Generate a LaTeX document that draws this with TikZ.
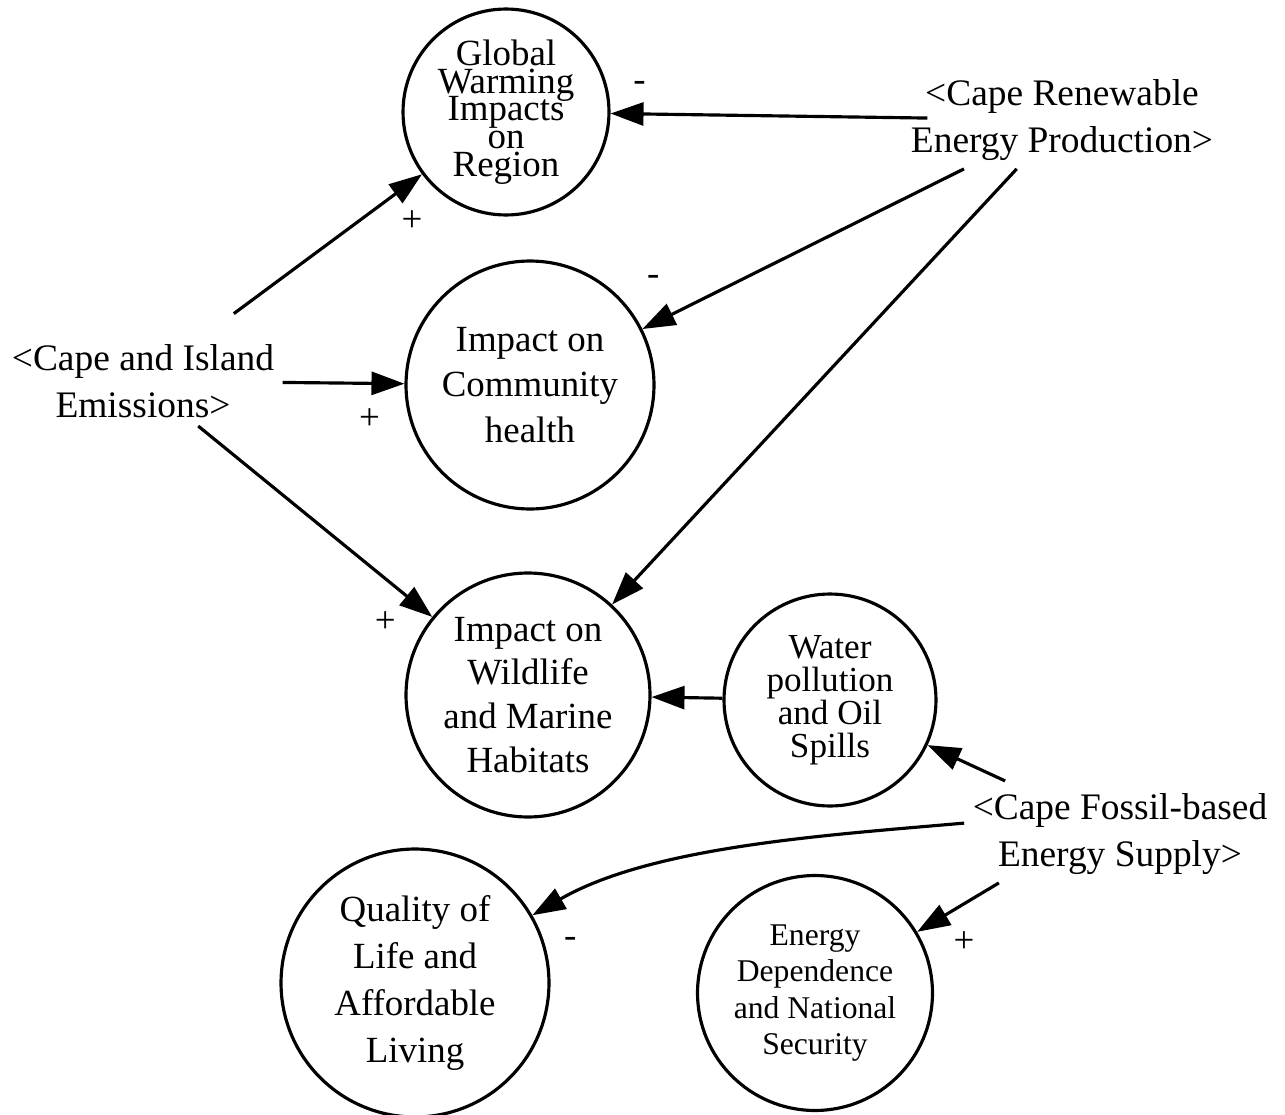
\documentclass[tikz,border=0pt]{standalone}
\usepackage{fontspec}
\setmainfont{Liberation Serif}
\usetikzlibrary{arrows.meta}

\begin{document}
\begin{tikzpicture}[x=0.02cm,y=-0.02cm,>={Triangle[length=0.66cm,width=0.46cm]},
                    line width=1.8pt,
                    var node/.style={circle,draw,inner sep=0pt,align=center,
                      font={\fontsize{21}{26}\selectfont\lineskiplimit=-50pt}},
                    shadow var/.style={align=center,inner sep=4pt,
                      font=\fontsize{21.3}{26.5}\selectfont},
                    sign/.style={font=\fontsize{21}{21}\selectfont,inner sep=0pt}]
  \useasboundingbox (0,0) rectangle (1285,1115);
  % variables in circles
  \node[var node,minimum size=4.12cm,
        font={\fontsize{21}{15.8}\selectfont\lineskiplimit=-50pt}] (glob) at (506,112)
        {Global\\Warming\\Impacts\\on\\Region};
  \node[var node,minimum size=4.96cm] (comm) at (530,385) {Impact on\\Community\\health};
  \node[var node,minimum size=4.88cm,
        font={\fontsize{21}{25}\selectfont\lineskiplimit=-50pt}] (wild) at (528,695)
        {Impact on\\Wildlife\\and Marine\\Habitats};
  \node[var node,minimum size=4.24cm,
        font={\fontsize{20}{18.8}\selectfont\lineskiplimit=-50pt}] (water) at (830,700)
        {Water\\pollution\\and Oil\\Spills};
  \node[var node,minimum size=5.36cm,
        font={\fontsize{21}{26.7}\selectfont\lineskiplimit=-50pt}] (qual) at (415,983)
        {Quality of\\Life and\\Affordable\\Living};
  \node[var node,minimum size=4.70cm,
        font={\fontsize{18}{20.8}\selectfont\lineskiplimit=-50pt}] (dep) at (815,993)
        {Energy\\Dependence\\and National\\Security};
  % shadow variables
  \node[shadow var] (emis) at (143,381) {<Cape and Island\\Emissions>};
  \node[shadow var] (renew) at (1062,120) {<Cape Renewable\\Energy Production>};
  \node[shadow var] (fossil) at (1120,834) {<Cape Fossil-based\\Energy Supply>};

  \path[->]
    (renew) edge[shorten <=-.5cm] node[sign,pos=1,xshift=.58cm,yshift=.54cm] {-} (glob)
    (renew) edge node[sign,pos=1,xshift=.22cm,yshift=.98cm] {-} (comm)
    (renew) edge (wild)
    (emis) edge[shorten <=.75cm] node[sign,pos=1,xshift=-.2cm,yshift=-.94cm] {+} (glob)
    (emis) edge node[sign,pos=1,xshift=-.7cm,yshift=-.7cm] {+} (comm)
    (emis) edge node[sign,pos=1,xshift=-.94cm,yshift=-.1cm] {+} (wild)
    (water) edge (wild)
    (fossil) edge[shorten <=.2cm] (water)
    (fossil.176) edge[out=185,in=30,looseness=.8] node[sign,pos=1,xshift=.76cm,yshift=-.54cm] {-} (qual)
    (fossil.202) edge node[sign,pos=1,xshift=.94cm,yshift=-.2cm] {+} (dep)
    ;
\end{tikzpicture}
\end{document}
